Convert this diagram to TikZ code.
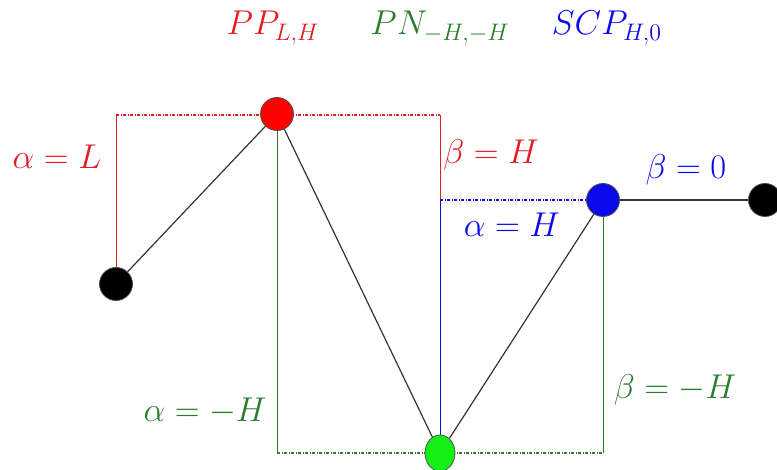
\documentclass[tikz,border=0pt]{standalone}
\usepackage{graphicx}
\usetikzlibrary{shapes.geometric}
\definecolor{rr}{RGB}{225,30,35}
\definecolor{gg}{RGB}{45,125,45}
\definecolor{bb}{RGB}{10,10,235}
\definecolor{gfill}{RGB}{20,240,20}
\newcommand{\mylbl}[1]{\scalebox{1.66}{$#1$}}
\tikzset{
  dot/.style={circle,draw=black!70,line width=0.8pt,minimum size=33pt,inner sep=0pt},
  link/.style={draw=black!80,line width=1.2pt},
  guide/.style={line width=1pt},
  dotted guide/.style={line width=1.3pt,dash pattern=on 3pt off 1.5pt on 1pt off 1.5pt},
  lab/.style={font=\huge,inner sep=0pt}
}
\begin{document}
\begin{tikzpicture}[x=1pt,y=-1pt]
\useasboundingbox (0,0) rectangle (777,470);
% coordinates
\coordinate (rtl) at (116,115);
\coordinate (rtr) at (440,115);
\coordinate (bm) at (440,200);
\coordinate (gbl) at (277,453);
\coordinate (gbr) at (603,453);
% guides
\draw[rr,guide] (116,284) -- (rtl);
\draw[rr,dotted guide] (rtl) -- (rtr);
\draw[rr,guide] (rtr) -- (bm);
\draw[bb,dotted guide] (bm) -- (603,200);
\draw[bb,guide] (bm) -- (440,453);
\draw[gg,guide] (277,114) -- (gbl);
\draw[gg,dotted guide] (gbl) -- (gbr);
\draw[gg,guide] (gbr) -- (603,200);
% nodes
\node[dot,fill=black] (l) at (116,284) {};
\node[dot,fill=red] (r) at (277,114) {};
\node[dot,fill=gfill,ellipse,minimum width=30pt,minimum height=36pt] (g) at (440,453) {};
\node[dot,fill=bb] (b) at (603,200) {};
\node[dot,fill=black] (e) at (765,200) {};
% links
\draw[link] (l) -- (r);
\draw[link] (r) -- (g);
\draw[link] (g) -- (b);
\draw[link] (b) -- (e);
% labels
\node[lab,text=rr] (t1) at (273,28) {\mylbl{PP_{L,H}}};
\node[lab,text=gg] (t2) at (440,28) {\mylbl{PN_{-H,-H}}};
\node[lab,text=bb] (t3) at (607,28) {\mylbl{SCP_{H,0}}};
\node[lab,text=rr] (a1) at (57,157) {\mylbl{\alpha=L}};
\node[lab,text=rr] (b1) at (491,155) {\mylbl{\beta=H}};
\node[lab,text=bb] (a2) at (512,225) {\mylbl{\alpha=H}};
\node[lab,text=bb] (b2) at (686,170) {\mylbl{\beta=0}};
\node[lab,text=gg] (a3) at (205,411) {\mylbl{\alpha=-H}};
\node[lab,text=gg] (b3) at (675,390) {\mylbl{\beta=-H}};
\end{tikzpicture}
\end{document}
